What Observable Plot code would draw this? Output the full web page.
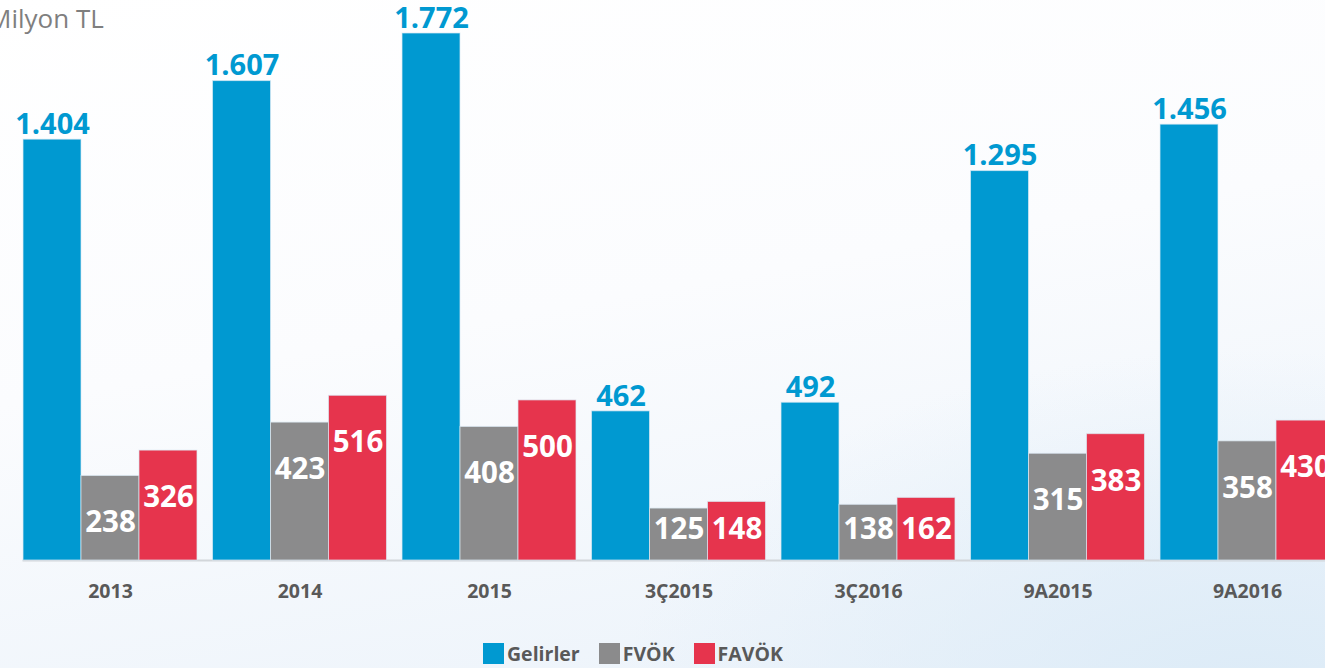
<!DOCTYPE html>
<html>
<head>
<meta charset="utf-8">
<script src="https://cdn.jsdelivr.net/npm/d3@7"></script>
<script src="https://cdn.jsdelivr.net/npm/@observablehq/plot@0.6"></script>
<style>
  html, body { margin: 0; padding: 0; width: 1325px; height: 668px; overflow: hidden; }
  body {
    position: relative;
    font-family: "Open Sans", sans-serif;
    background:
      radial-gradient(ellipse 900px 500px at 1250px 700px, #dcebf7 0%, rgba(220,235,247,0) 70%),
      linear-gradient(170deg, #ffffff 0%, #fbfcfe 45%, #eaf2fa 100%);
  }
  #unit { position: absolute; left: -12px; top: 0px; font-size: 26px; color: #7f7f7f; }
  #chart { position: absolute; left: 0; top: 0; }
  #legend { position: absolute; left: 483px; top: 640px; display: flex; align-items: center;
            font-size: 19.5px; font-weight: 700; color: #595959; }
  #legend .item { display: flex; align-items: center; margin-right: 19px; }
  #legend .sw { width: 21px; height: 21px; margin-right: 3px; }
</style>
</head>
<body>
<div id="unit">Milyon TL</div>
<div id="chart"></div>
<div id="legend"></div>
<script>
const periods = ["2013", "2014", "2015", "3Ç2015", "3Ç2016", "9A2015", "9A2016"];
const seriesNames = ["Gelirler", "FVÖK", "FAVÖK"];
const gelirler = [1404, 1607, 1772, 462, 492, 1295, 1456];
const fvok = [238, 423, 408, 125, 138, 315, 358];
const favok = [326, 516, 500, 148, 162, 383, 430];
const colors = ["#0099d1", "#8b8b8c", "#e6344d"];

const yMin = -55;
const yMax = 1772;

const rows = periods.flatMap((p, i) => [
  {period: p, series: seriesNames[0], value: gelirler[i]},
  {period: p, series: seriesNames[1], value: fvok[i]},
  {period: p, series: seriesNames[2], value: favok[i]}
]);
// inside labels: ~47px below bar top, but kept off the baseline for short bars
rows.forEach(d => { d.labelY = Math.max(d.value - 163, 52); });

const trFormat = d3.formatLocale({decimal: ",", thousands: ".", grouping: [3], currency: ["₺", ""]}).format(",");

const chart = Plot.plot({
  width: 1325,
  height: 615,
  marginLeft: 15.25,
  marginRight: -16.75,
  marginTop: 33,
  marginBottom: 55,
  style: {fontFamily: "Open Sans", background: "transparent", overflow: "visible"},
  fx: {domain: periods, paddingInner: 0.082, paddingOuter: 0.041, round: false, axis: null},
  x: {domain: seriesNames, padding: 0, round: false, axis: null},
  y: {domain: [yMin, yMax], axis: null},
  color: {domain: seriesNames, range: colors},
  marks: [
    Plot.frame({anchor: "bottom", facet: "super", stroke: "#d2d6da", strokeWidth: 2}),
    Plot.barY(rows, {fx: "period", x: "series", y1: yMin, y2: "value", fill: "series",
      stroke: "#dce9f3", strokeWidth: 1, strokeOpacity: 0.7}),
    Plot.text(rows.filter(d => d.series === "Gelirler"), {fx: "period", x: "series", y: "value",
      text: d => trFormat(d.value), dy: -15, fill: colors[0], fontSize: 29, fontWeight: 700}),
    Plot.text(rows.filter(d => d.series !== "Gelirler"), {fx: "period", x: "series", y: "labelY",
      text: d => trFormat(d.value), fill: "white", fontSize: 29.5, fontWeight: 700}),
    Plot.axisFx({anchor: "bottom", tickSize: 0, tickPadding: 24, fontSize: 19.5, fontWeight: 700,
      color: "#595959", label: null})
  ]
});
document.getElementById("chart").appendChild(chart);

const legend = document.getElementById("legend");
seriesNames.forEach((s, i) => {
  const item = document.createElement("div");
  item.className = "item";
  const sw = document.createElement("div");
  sw.className = "sw";
  sw.style.background = colors[i];
  const lab = document.createElement("span");
  lab.textContent = s;
  item.appendChild(sw);
  item.appendChild(lab);
  legend.appendChild(item);
});
</script>
</body>
</html>
